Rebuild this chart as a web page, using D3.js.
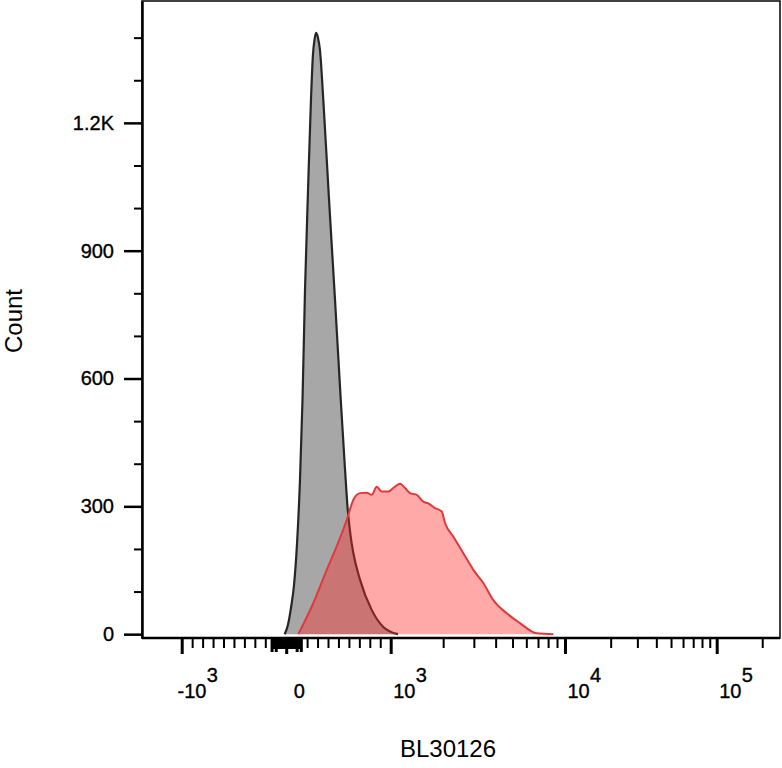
<!DOCTYPE html>
<html>
<head>
  <meta charset="utf-8">
  <title>BL30126 histogram</title>
  <style>
    html, body { margin: 0; padding: 0; background: #fff; }
    svg { display: block; font-family: "Liberation Sans", Arial, sans-serif; }
  </style>
</head>
<body>
  <div id="chart"></div>

  <script src="https://cdn.jsdelivr.net/npm/d3@7"></script>

  <script>
    // control histogram (gray): channel value and event count
    var controlValues = [-15, 17, 46, 75, 103, 132, 156, 180, 209, 237, 256, 271, 285, 304, 323, 355, 410, 467, 522, 563, 589, 615, 642, 706, 818, 929, 1101];
    var controlCounts = [0, 22, 62, 116, 210, 363, 550, 808, 1043, 1254, 1360, 1395, 1411, 1400, 1371, 1254, 1019, 785, 550, 386, 292, 233, 191, 128, 57, 17, 0];

    // stained histogram (red)
    var stainedValues = [116, 259, 388, 483, 579, 642, 706, 770, 818, 866, 914, 977, 1035, 1131, 1208, 1290, 1410, 1538, 1643, 1796, 1962, 2050, 2284, 2610, 2979, 3398, 3878, 4631, 5516, 6878, 8575];
    var stainedCounts = [0, 73, 151, 206, 268, 315, 331, 332, 327, 346, 335, 335, 343, 353, 343, 331, 327, 311, 307, 296, 288, 261, 229, 190, 151, 120, 80, 49, 26, 2, 0];

    // axis ticks
    var yMajorTicks = [0, 300, 600, 900, 1200];
    var yMinorTicks = [100, 200, 400, 500, 700, 800, 1000, 1100, 1300, 1400];
    var xMajorTicks = [-1000, 0, 1000, 10000, 100000];
    var xNearZeroTicks = [-140, -100, 100, 140];
    var xClusterTicks = [-130, -120, -110, -90, -80, -70, -60, -50, -40, -30, -20, -10,
                         10, 20, 30, 40, 50, 60, 70, 80, 90, 110, 120, 130];
    var xMinorTicks = [-900, -800, -700, -600, -500, -400, -300, -200,
                       200, 300, 400, 500, 600, 700, 800, 900,
                       2000, 3000, 4000, 5000, 6000, 7000, 8000, 9000,
                       20000, 30000, 40000, 50000, 60000, 70000, 80000, 90000, 200000];

    var xTitle = "BL30126",
        yTitle = "Count";

    var width = 782,
        height = 768;

    var plotLeft = 142, plotRight = 780, plotTop = 1, plotBottom = 638;

    // biexponential-style display: linear around zero, log above 10^3
    function xT(v) { return v <= 1000 ? v / 1000 : 1 + Math.log10(v / 1000); }

    var x = d3.scaleLinear()
        .domain([xT(-1380), xT(1e3), xT(1e4), xT(1e5), xT(262144)])
        .range([plotLeft, 390.7, 565, 716.7, plotRight]);

    var y = d3.scaleLinear()
        .domain([-9, 1486])
        .range([plotBottom, plotTop]);

    var svg = d3.select("#chart")
        .append("svg")
        .attr("width", width)
        .attr("height", height);

    function toPoints(vals, counts) {
      return vals.map(function(v, i) { return {v: v, c: counts[i]}; });
    }

    var area = d3.area()
        .x(function(d) { return x(xT(d.v)); })
        .y0(y(0))
        .y1(function(d) { return y(d.c); })
        .curve(d3.curveMonotoneX);

    var line = d3.line()
        .x(function(d) { return x(xT(d.v)); })
        .y(function(d) { return y(d.c); })
        .curve(d3.curveMonotoneX);

    var control = toPoints(controlValues, controlCounts),
        stained = toPoints(stainedValues, stainedCounts);

    svg.append("path")
        .datum(control)
        .attr("d", area)
        .attr("fill", "#a7a7a7");
    svg.append("path")
        .datum(control)
        .attr("d", line)
        .attr("fill", "none")
        .attr("stroke", "#262626")
        .attr("stroke-width", 2.2);

    svg.append("path")
        .datum(stained)
        .attr("d", area)
        .attr("fill", "rgba(255, 40, 40, 0.4)");
    svg.append("path")
        .datum(stained)
        .attr("d", line)
        .attr("fill", "none")
        .attr("stroke", "#e3383a")
        .attr("stroke-width", 2);

    // frame
    svg.append("rect")
        .attr("x", plotLeft)
        .attr("y", plotTop)
        .attr("width", plotRight - plotLeft)
        .attr("height", plotBottom - plotTop)
        .attr("fill", "none")
        .attr("stroke", "#000")
        .attr("stroke-width", 1.5);

    // y axis
    var yAxis = svg.append("g")
        .attr("transform", "translate(" + plotLeft + ",0)")
        .call(d3.axisLeft(y)
          .tickValues(yMajorTicks)
          .tickSize(18)
          .tickSizeOuter(0)
          .tickPadding(10)
          .tickFormat(function(d) { return d >= 1000 ? (d / 1000) + "K" : d; }));
    yAxis.selectAll("line").attr("stroke-width", 2.5);
    yAxis.select(".domain").attr("stroke-width", 2.5);
    yAxis.selectAll("text")
        .attr("font-size", 20)
        .attr("font-family", "Liberation Sans, Arial, sans-serif")
        .attr("fill", "#000")
        .attr("stroke", "#000")
        .attr("stroke-width", 0.35);

    var yMinor = svg.append("g")
        .attr("transform", "translate(" + plotLeft + ",0)")
        .call(d3.axisLeft(y).tickValues(yMinorTicks).tickSize(8).tickFormat(""));
    yMinor.select(".domain").remove();
    yMinor.selectAll("line").attr("stroke-width", 2);

    // x axis
    function xTicks(vals, size, w) {
      var g = svg.append("g")
          .attr("transform", "translate(0," + plotBottom + ")")
          .call(d3.axisBottom(x).tickValues(vals.map(xT)).tickSize(size).tickSizeOuter(0).tickFormat(""));
      g.select(".domain").remove();
      g.selectAll("line").attr("stroke-width", w);
      return g;
    }
    xTicks(xMinorTicks, 10, 2);
    xTicks(xClusterTicks, 11, 2);
    xTicks(xNearZeroTicks, 14, 3);
    xTicks(xMajorTicks, 16, 3);

    svg.append("line")
        .attr("x1", plotLeft).attr("x2", plotRight)
        .attr("y1", plotBottom).attr("y2", plotBottom)
        .attr("stroke", "#000")
        .attr("stroke-width", 2.5);

    // x tick labels: 10 with exponent
    var xLabels = svg.append("g")
        .attr("font-size", 20)
        .attr("fill", "#000")
        .attr("stroke", "#000")
        .attr("stroke-width", 0.35);
    xMajorTicks.forEach(function(v) {
      var px = x(xT(v));
      if (v === 0) {
        xLabels.append("text")
            .attr("x", px + 13)
            .attr("y", 698)
            .attr("text-anchor", "middle")
            .text("0");
        return;
      }
      var g = xLabels.append("g").attr("transform", "translate(" + (px + 2.5) + ",0)");
      g.append("text").attr("y", 698).text("10");
      g.append("text").attr("x", 22.5).attr("y", 682).text(Math.round(Math.log10(Math.abs(v))));
      if (v < 0) {
        g.append("text").attr("y", 698).attr("text-anchor", "end").text("-");
      }
    });

    // axis titles
    svg.append("text")
        .attr("x", (plotLeft + plotRight) / 2 - 13)
        .attr("y", 757)
        .attr("text-anchor", "middle")
        .attr("font-size", 24)
        .text(xTitle);

    svg.append("text")
        .attr("transform", "translate(22," + 321 + ") rotate(-90)")
        .attr("text-anchor", "middle")
        .attr("font-size", 24)
        .text(yTitle);
  </script>
</body>
</html>
